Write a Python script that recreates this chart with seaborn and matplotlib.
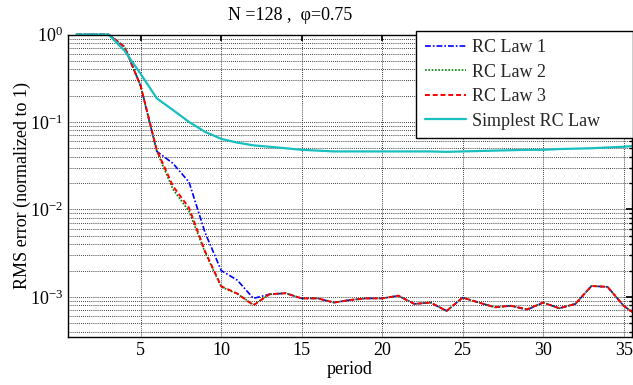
import numpy as np
import pandas as pd
import matplotlib
matplotlib.use("Agg")
import matplotlib.pyplot as plt
import seaborn as sns
from matplotlib.ticker import LogLocator, LogFormatterMathtext, NullFormatter, MultipleLocator
from matplotlib.transforms import Bbox, TransformedBbox

periods = list(range(1, 37))
rc_law_1 = [1.0, 1.0, 1.0, 0.72, 0.257, 0.046, 0.0336, 0.0205, 0.0054, 0.0020,
            0.00155, 0.00096, 0.00107, 0.00110, 0.00096, 0.00096, 0.00086, 0.00092,
            0.00096, 0.00096, 0.00103, 0.00083, 0.00086, 0.00069, 0.00098, 0.00086,
            0.00076, 0.00079, 0.00071, 0.00086, 0.00074, 0.00083, 0.00133, 0.00130,
            0.00079, 0.00058]
rc_law_2 = [1.0, 1.0, 1.0, 0.72, 0.255, 0.046, 0.017, 0.0095, 0.0032, 0.0013,
            0.00108, 0.00081, 0.00107, 0.00110, 0.00096, 0.00096, 0.00086, 0.00092,
            0.00096, 0.00096, 0.00103, 0.00083, 0.00086, 0.00069, 0.00098, 0.00086,
            0.00076, 0.00079, 0.00072, 0.00086, 0.00074, 0.00083, 0.00133, 0.00130,
            0.00079, 0.00058]
rc_law_3 = [1.0, 1.0, 1.0, 0.72, 0.257, 0.0476, 0.0185, 0.0104, 0.0033, 0.00132,
            0.00109, 0.00080, 0.00107, 0.00110, 0.00096, 0.00096, 0.00086, 0.00092,
            0.00096, 0.00096, 0.00103, 0.00083, 0.00086, 0.00069, 0.00098, 0.00086,
            0.00076, 0.00079, 0.00072, 0.00086, 0.00074, 0.00083, 0.00133, 0.00130,
            0.00079, 0.00058]
simplest_rc = [1.0, 1.0, 1.0, 0.65, 0.353, 0.186, 0.137, 0.100, 0.077, 0.064,
               0.058, 0.054, 0.052, 0.050, 0.048, 0.047, 0.046, 0.046, 0.046, 0.046,
               0.046, 0.046, 0.046, 0.0455, 0.046, 0.0465, 0.047, 0.0475, 0.048, 0.048,
               0.049, 0.0495, 0.050, 0.051, 0.052, 0.054]

series_names = ["RC Law 1", "RC Law 2", "RC Law 3", "Simplest RC Law"]
title_text = "N =128 ,  \u03c6=0.75"

sns.set_theme(style="white")
plt.rcParams["font.family"] = ["Liberation Serif", "DejaVu Serif"]
plt.rcParams["mathtext.fontset"] = "custom"
plt.rcParams["mathtext.rm"] = "Liberation Serif"
plt.rcParams["mathtext.it"] = "Liberation Serif:italic"
plt.rcParams["mathtext.bf"] = "Liberation Serif:bold"

FS = 13

df = pd.DataFrame({"period": periods, "RC Law 1": rc_law_1, "RC Law 2": rc_law_2,
                   "RC Law 3": rc_law_3, "Simplest RC Law": simplest_rc})

fig = plt.figure(figsize=(6.33, 3.85), dpi=100)
fig.patch.set_facecolor("white")
ax = fig.add_axes([68.3/633, 1-336.7/385, (631.7-68.3)/633, (336.7-34.5)/385])

styles = {
    "RC Law 1": dict(color="#0000ff", linestyle=(0, (3.5, 1.2, 1, 1.2)), linewidth=1.2),
    "RC Law 2": dict(color="#008000", linestyle=(0, (1, 1)), linewidth=1.2),
    "RC Law 3": dict(color="#ff0000", linestyle=(0, (2.5, 1.5)), linewidth=1.4),
    "Simplest RC Law": dict(color="#17bfbf", linestyle="-", linewidth=1.6),
}
for name in series_names:
    sns.lineplot(data=df, x="period", y=name, ax=ax, label=name, **styles[name])

clip = TransformedBbox(Bbox([[0, -0.02], [1, 1.02]]), ax.transAxes)
for line in ax.get_lines():
    line.set_clip_box(clip)

ax.set_yscale("log")
ax.set_xlim(0.5, 35.5)
ax.set_ylim(3.5e-4, 1.0)
ax.xaxis.set_major_locator(MultipleLocator(5))
ax.yaxis.set_major_locator(LogLocator(base=10, numticks=10))
ax.yaxis.set_minor_locator(LogLocator(base=10, subs=np.arange(2, 10), numticks=20))
ax.yaxis.set_major_formatter(LogFormatterMathtext())
ax.yaxis.set_minor_formatter(NullFormatter())

ax.grid(True, which="major", axis="both", color="black", linestyle=(0, (1, 1.5)), linewidth=0.6)
ax.grid(True, which="minor", axis="y", color="black", linestyle=(0, (1, 1.5)), linewidth=0.6)
ax.set_axisbelow(True)

for s in ax.spines.values():
    s.set_visible(True)
    s.set_color("black")
    s.set_linewidth(1.0)

ax.tick_params(axis="both", which="both", direction="in", top=True, right=True,
               labelsize=FS, colors="black", pad=4)
ax.tick_params(axis="both", which="major", length=4)
ax.tick_params(axis="y", which="minor", length=2)

ax.set_xlabel("period", fontsize=FS, color="black", labelpad=1)
ax.set_ylabel("RMS error (normalized to 1)", fontsize=FS, color="black")
ax.yaxis.set_label_coords(-0.066, 0.5)

fig.text(290/633, 1-16/385, title_text, ha="center", va="center", fontsize=FS, color="black")

leg = ax.legend(loc="upper left", bbox_to_anchor=(0.618, 0.66, 0.384, 0.352), mode="expand",
                borderaxespad=0, fontsize=FS, frameon=True, fancybox=False, edgecolor="black",
                framealpha=1, handlelength=2.3, handletextpad=0.3, labelspacing=0.42,
                borderpad=0.45)
leg.get_frame().set_linewidth(1.0)
leg.set_zorder(10)

fig.savefig("out.png", dpi=100, facecolor="white")
